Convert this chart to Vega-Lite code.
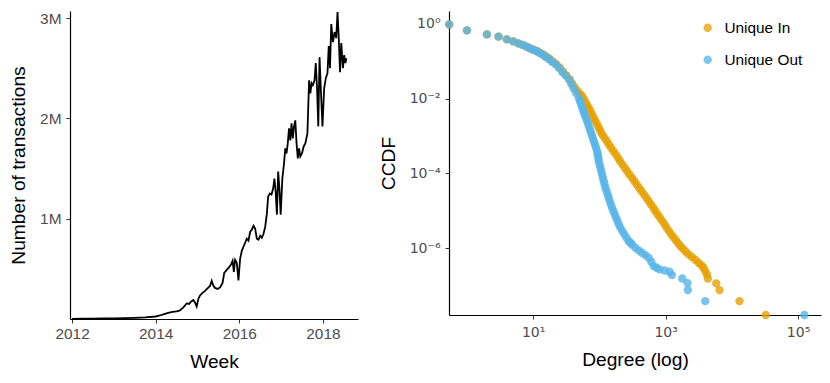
{
  "$schema": "https://vega.github.io/schema/vega-lite/v6.json",
  "padding": {"left": 9, "top": 8, "right": 11, "bottom": 0},
  "config": {
    "font": "Liberation Sans",
    "view": {"stroke": null},
    "axis": {"grid": false, "domainColor": "black", "domainWidth": 1.2, "tickColor": "#333333", "tickSize": 4, "tickWidth": 1, "labelColor": "#4D4D4D", "labelFontSize": 15.4, "titleFontSize": 19.2, "titleFontWeight": "normal", "titleColor": "black", "labelFlush": false, "labelOverlap": false},
    "concat": {"spacing": 21}
  },
  "resolve": {"scale": {"color": "independent"}, "legend": {"color": "independent"}},
  "hconcat": [
    {
      "width": 288,
      "height": 308,
      "data": {"values": [
        {"week": 2012.00, "transactions": 2000},
        {"week": 2012.25, "transactions": 3000},
        {"week": 2012.50, "transactions": 4000},
        {"week": 2012.75, "transactions": 5000},
        {"week": 2013.00, "transactions": 6000},
        {"week": 2013.25, "transactions": 8000},
        {"week": 2013.50, "transactions": 11000},
        {"week": 2013.75, "transactions": 16000},
        {"week": 2014.00, "transactions": 25000},
        {"week": 2014.10, "transactions": 35000},
        {"week": 2014.20, "transactions": 48000},
        {"week": 2014.30, "transactions": 62000},
        {"week": 2014.40, "transactions": 72000},
        {"week": 2014.50, "transactions": 75000},
        {"week": 2014.58, "transactions": 85000},
        {"week": 2014.65, "transactions": 110000},
        {"week": 2014.70, "transactions": 135000},
        {"week": 2014.74, "transactions": 155000},
        {"week": 2014.80, "transactions": 150000},
        {"week": 2014.85, "transactions": 175000},
        {"week": 2014.90, "transactions": 190000},
        {"week": 2014.94, "transactions": 165000},
        {"week": 2014.98, "transactions": 125000},
        {"week": 2015.02, "transactions": 200000},
        {"week": 2015.06, "transactions": 235000},
        {"week": 2015.12, "transactions": 260000},
        {"week": 2015.18, "transactions": 280000},
        {"week": 2015.24, "transactions": 305000},
        {"week": 2015.30, "transactions": 330000},
        {"week": 2015.34, "transactions": 380000},
        {"week": 2015.38, "transactions": 330000},
        {"week": 2015.42, "transactions": 310000},
        {"week": 2015.48, "transactions": 300000},
        {"week": 2015.54, "transactions": 315000},
        {"week": 2015.60, "transactions": 360000},
        {"week": 2015.64, "transactions": 460000},
        {"week": 2015.68, "transactions": 480000},
        {"week": 2015.72, "transactions": 500000},
        {"week": 2015.76, "transactions": 520000},
        {"week": 2015.80, "transactions": 540000},
        {"week": 2015.84, "transactions": 580000},
        {"week": 2015.87, "transactions": 470000},
        {"week": 2015.90, "transactions": 590000},
        {"week": 2015.94, "transactions": 560000},
        {"week": 2015.98, "transactions": 385000},
        {"week": 2016.02, "transactions": 600000},
        {"week": 2016.06, "transactions": 680000},
        {"week": 2016.10, "transactions": 720000},
        {"week": 2016.14, "transactions": 760000},
        {"week": 2016.18, "transactions": 800000},
        {"week": 2016.22, "transactions": 780000},
        {"week": 2016.26, "transactions": 870000},
        {"week": 2016.30, "transactions": 890000},
        {"week": 2016.34, "transactions": 930000},
        {"week": 2016.38, "transactions": 900000},
        {"week": 2016.42, "transactions": 800000},
        {"week": 2016.46, "transactions": 790000},
        {"week": 2016.50, "transactions": 830000},
        {"week": 2016.54, "transactions": 810000},
        {"week": 2016.58, "transactions": 850000},
        {"week": 2016.62, "transactions": 920000},
        {"week": 2016.66, "transactions": 1050000},
        {"week": 2016.69, "transactions": 1220000},
        {"week": 2016.73, "transactions": 1250000},
        {"week": 2016.77, "transactions": 1240000},
        {"week": 2016.81, "transactions": 1300000},
        {"week": 2016.84, "transactions": 1400000},
        {"week": 2016.87, "transactions": 1270000},
        {"week": 2016.90, "transactions": 1040000},
        {"week": 2016.93, "transactions": 1470000},
        {"week": 2016.96, "transactions": 1300000},
        {"week": 2016.99, "transactions": 1040000},
        {"week": 2017.03, "transactions": 1400000},
        {"week": 2017.07, "transactions": 1550000},
        {"week": 2017.10, "transactions": 1700000},
        {"week": 2017.13, "transactions": 1650000},
        {"week": 2017.16, "transactions": 1750000},
        {"week": 2017.19, "transactions": 1900000},
        {"week": 2017.22, "transactions": 1780000},
        {"week": 2017.25, "transactions": 1950000},
        {"week": 2017.28, "transactions": 1800000},
        {"week": 2017.31, "transactions": 1920000},
        {"week": 2017.34, "transactions": 1980000},
        {"week": 2017.37, "transactions": 1750000},
        {"week": 2017.40, "transactions": 1600000},
        {"week": 2017.43, "transactions": 1700000},
        {"week": 2017.46, "transactions": 1620000},
        {"week": 2017.50, "transactions": 1650000},
        {"week": 2017.54, "transactions": 1720000},
        {"week": 2017.58, "transactions": 1750000},
        {"week": 2017.63, "transactions": 1850000},
        {"week": 2017.67, "transactions": 2380000},
        {"week": 2017.70, "transactions": 2250000},
        {"week": 2017.73, "transactions": 2350000},
        {"week": 2017.76, "transactions": 2330000},
        {"week": 2017.80, "transactions": 2380000},
        {"week": 2017.83, "transactions": 2550000},
        {"week": 2017.86, "transactions": 2300000},
        {"week": 2017.89, "transactions": 1920000},
        {"week": 2017.92, "transactions": 2610000},
        {"week": 2017.95, "transactions": 2300000},
        {"week": 2017.99, "transactions": 1920000},
        {"week": 2018.03, "transactions": 2300000},
        {"week": 2018.07, "transactions": 2400000},
        {"week": 2018.11, "transactions": 2450000},
        {"week": 2018.14, "transactions": 2720000},
        {"week": 2018.17, "transactions": 2500000},
        {"week": 2018.20, "transactions": 2940000},
        {"week": 2018.24, "transactions": 2760000},
        {"week": 2018.28, "transactions": 2860000},
        {"week": 2018.32, "transactions": 2800000},
        {"week": 2018.35, "transactions": 3060000},
        {"week": 2018.38, "transactions": 2800000},
        {"week": 2018.41, "transactions": 2460000},
        {"week": 2018.44, "transactions": 2750000},
        {"week": 2018.48, "transactions": 2500000},
        {"week": 2018.51, "transactions": 2630000},
        {"week": 2018.54, "transactions": 2550000},
        {"week": 2018.56, "transactions": 2600000}
      ]},
      "mark": {"type": "line", "color": "black", "strokeWidth": 1.8},
      "encoding": {
        "x": {"field": "week", "type": "quantitative", "scale": {"domain": [2011.95, 2018.84], "nice": false, "zero": false}, "axis": {"values": [2012, 2014, 2016, 2018], "format": "d", "title": "Week", "labelPadding": 3, "titlePadding": 11}},
        "y": {"field": "transactions", "type": "quantitative", "scale": {"domain": [0, 3070000], "nice": false}, "axis": {"values": [1000000, 2000000, 3000000], "labelExpr": "datum.value / 1000000 + 'M'", "title": "Number of transactions", "labelPadding": 5, "titlePadding": 11}}
      }
    },
    {
      "width": 372,
      "height": 304,
      "data": {"values": [
        {"direction": "Unique In", "degree": 0.54, "ccdf": 0.96},
        {"direction": "Unique In", "degree": 1, "ccdf": 0.664},
        {"direction": "Unique In", "degree": 2, "ccdf": 0.519},
        {"direction": "Unique In", "degree": 3, "ccdf": 0.45},
        {"direction": "Unique In", "degree": 4, "ccdf": 0.381},
        {"direction": "Unique In", "degree": 5, "ccdf": 0.337},
        {"direction": "Unique In", "degree": 6, "ccdf": 0.298},
        {"direction": "Unique In", "degree": 7, "ccdf": 0.269},
        {"direction": "Unique In", "degree": 8, "ccdf": 0.243},
        {"direction": "Unique In", "degree": 9, "ccdf": 0.219},
        {"direction": "Unique In", "degree": 10, "ccdf": 0.202},
        {"direction": "Unique In", "degree": 11.49, "ccdf": 0.186},
        {"direction": "Unique In", "degree": 12.75, "ccdf": 0.168},
        {"direction": "Unique In", "degree": 14.15, "ccdf": 0.152},
        {"direction": "Unique In", "degree": 15.89, "ccdf": 0.131},
        {"direction": "Unique In", "degree": 17.84, "ccdf": 0.114},
        {"direction": "Unique In", "degree": 20.03, "ccdf": 0.0966},
        {"direction": "Unique In", "degree": 22.48, "ccdf": 0.082},
        {"direction": "Unique In", "degree": 25.23, "ccdf": 0.0668},
        {"direction": "Unique In", "degree": 28.34, "ccdf": 0.0522},
        {"direction": "Unique In", "degree": 31.8, "ccdf": 0.0417},
        {"direction": "Unique In", "degree": 35.72, "ccdf": 0.0326},
        {"direction": "Unique In", "degree": 38.72, "ccdf": 0.0255},
        {"direction": "Unique In", "degree": 42.47, "ccdf": 0.0199},
        {"direction": "Unique In", "degree": 46.59, "ccdf": 0.0159},
        {"direction": "Unique In", "degree": 50.52, "ccdf": 0.0135},
        {"direction": "Unique In", "degree": 54.8, "ccdf": 0.0117},
        {"direction": "Unique In", "degree": 58.05, "ccdf": 0.00972},
        {"direction": "Unique In", "degree": 61.51, "ccdf": 0.00807},
        {"direction": "Unique In", "degree": 65.18, "ccdf": 0.00671},
        {"direction": "Unique In", "degree": 69.06, "ccdf": 0.00558},
        {"direction": "Unique In", "degree": 73.16, "ccdf": 0.00465},
        {"direction": "Unique In", "degree": 77.51, "ccdf": 0.00378},
        {"direction": "Unique In", "degree": 82.14, "ccdf": 0.00308},
        {"direction": "Unique In", "degree": 87.03, "ccdf": 0.00251},
        {"direction": "Unique In", "degree": 92.2, "ccdf": 0.00205},
        {"direction": "Unique In", "degree": 97.7, "ccdf": 0.00167},
        {"direction": "Unique In", "degree": 103.5, "ccdf": 0.00136},
        {"direction": "Unique In", "degree": 109.7, "ccdf": 0.00111},
        {"direction": "Unique In", "degree": 118.9, "ccdf": 0.000902},
        {"direction": "Unique In", "degree": 129, "ccdf": 0.000735},
        {"direction": "Unique In", "degree": 138.3, "ccdf": 0.000597},
        {"direction": "Unique In", "degree": 149.9, "ccdf": 0.000486},
        {"direction": "Unique In", "degree": 162.6, "ccdf": 0.000396},
        {"direction": "Unique In", "degree": 176.3, "ccdf": 0.000323},
        {"direction": "Unique In", "degree": 191.1, "ccdf": 0.000263},
        {"direction": "Unique In", "degree": 204.9, "ccdf": 0.000214},
        {"direction": "Unique In", "degree": 222.2, "ccdf": 0.000175},
        {"direction": "Unique In", "degree": 240.9, "ccdf": 0.000142},
        {"direction": "Unique In", "degree": 261.2, "ccdf": 0.000116},
        {"direction": "Unique In", "degree": 283.3, "ccdf": 0.0000944},
        {"direction": "Unique In", "degree": 310.9, "ccdf": 0.0000769},
        {"direction": "Unique In", "degree": 337, "ccdf": 0.0000627},
        {"direction": "Unique In", "degree": 365.4, "ccdf": 0.0000511},
        {"direction": "Unique In", "degree": 396.3, "ccdf": 0.0000416},
        {"direction": "Unique In", "degree": 429.7, "ccdf": 0.0000339},
        {"direction": "Unique In", "degree": 471.5, "ccdf": 0.0000276},
        {"direction": "Unique In", "degree": 511, "ccdf": 0.0000225},
        {"direction": "Unique In", "degree": 554, "ccdf": 0.0000183},
        {"direction": "Unique In", "degree": 600.9, "ccdf": 0.0000149},
        {"direction": "Unique In", "degree": 651.8, "ccdf": 0.0000122},
        {"direction": "Unique In", "degree": 698.7, "ccdf": 0.00000991},
        {"direction": "Unique In", "degree": 757.6, "ccdf": 0.00000805},
        {"direction": "Unique In", "degree": 821.6, "ccdf": 0.00000656},
        {"direction": "Unique In", "degree": 890.7, "ccdf": 0.00000535},
        {"direction": "Unique In", "degree": 965.8, "ccdf": 0.00000436},
        {"direction": "Unique In", "degree": 1035, "ccdf": 0.00000355},
        {"direction": "Unique In", "degree": 1123, "ccdf": 0.00000289},
        {"direction": "Unique In", "degree": 1217, "ccdf": 0.00000236},
        {"direction": "Unique In", "degree": 1320, "ccdf": 0.00000196},
        {"direction": "Unique In", "degree": 1432, "ccdf": 0.00000163},
        {"direction": "Unique In", "degree": 1552, "ccdf": 0.00000136},
        {"direction": "Unique In", "degree": 1664, "ccdf": 0.00000115},
        {"direction": "Unique In", "degree": 1825, "ccdf": 9.75e-7},
        {"direction": "Unique In", "degree": 2002, "ccdf": 8.28e-7},
        {"direction": "Unique In", "degree": 2222, "ccdf": 6.89e-7},
        {"direction": "Unique In", "degree": 2495, "ccdf": 5.85e-7},
        {"direction": "Unique In", "degree": 2800, "ccdf": 4.95e-7},
        {"direction": "Unique In", "degree": 3145, "ccdf": 4.12e-7},
        {"direction": "Unique In", "degree": 3449, "ccdf": 3.57e-7},
        {"direction": "Unique In", "degree": 3741, "ccdf": 3.03e-7},
        {"direction": "Unique In", "degree": 3963, "ccdf": 2.47e-7},
        {"direction": "Unique In", "degree": 4199, "ccdf": 2.01e-7},
        {"direction": "Unique In", "degree": 4347, "ccdf": 1.57e-7},
        {"direction": "Unique In", "degree": 5805, "ccdf": 1.16e-7},
        {"direction": "Unique In", "degree": 6518, "ccdf": 7.67e-8},
        {"direction": "Unique In", "degree": 13050, "ccdf": 3.9e-8},
        {"direction": "Unique In", "degree": 32550, "ccdf": 1.66e-8},
        {"direction": "Unique Out", "degree": 0.54, "ccdf": 0.96},
        {"direction": "Unique Out", "degree": 1, "ccdf": 0.664},
        {"direction": "Unique Out", "degree": 2, "ccdf": 0.519},
        {"direction": "Unique Out", "degree": 3, "ccdf": 0.45},
        {"direction": "Unique Out", "degree": 4, "ccdf": 0.381},
        {"direction": "Unique Out", "degree": 5, "ccdf": 0.337},
        {"direction": "Unique Out", "degree": 6, "ccdf": 0.298},
        {"direction": "Unique Out", "degree": 7, "ccdf": 0.269},
        {"direction": "Unique Out", "degree": 8, "ccdf": 0.243},
        {"direction": "Unique Out", "degree": 9, "ccdf": 0.219},
        {"direction": "Unique Out", "degree": 10, "ccdf": 0.202},
        {"direction": "Unique Out", "degree": 11.1, "ccdf": 0.186},
        {"direction": "Unique Out", "degree": 12.3, "ccdf": 0.168},
        {"direction": "Unique Out", "degree": 13.7, "ccdf": 0.152},
        {"direction": "Unique Out", "degree": 15.3, "ccdf": 0.131},
        {"direction": "Unique Out", "degree": 17.2, "ccdf": 0.114},
        {"direction": "Unique Out", "degree": 19.3, "ccdf": 0.0966},
        {"direction": "Unique Out", "degree": 21.7, "ccdf": 0.082},
        {"direction": "Unique Out", "degree": 24.4, "ccdf": 0.0668},
        {"direction": "Unique Out", "degree": 27.4, "ccdf": 0.0522},
        {"direction": "Unique Out", "degree": 30.7, "ccdf": 0.0417},
        {"direction": "Unique Out", "degree": 34.5, "ccdf": 0.0326},
        {"direction": "Unique Out", "degree": 37.4, "ccdf": 0.0249},
        {"direction": "Unique Out", "degree": 40.6, "ccdf": 0.0187},
        {"direction": "Unique Out", "degree": 44.5, "ccdf": 0.0141},
        {"direction": "Unique Out", "degree": 48.8, "ccdf": 0.0105},
        {"direction": "Unique Out", "degree": 50.5, "ccdf": 0.00884},
        {"direction": "Unique Out", "degree": 52.3, "ccdf": 0.00745},
        {"direction": "Unique Out", "degree": 54.2, "ccdf": 0.00619},
        {"direction": "Unique Out", "degree": 56.1, "ccdf": 0.00514},
        {"direction": "Unique Out", "degree": 58.1, "ccdf": 0.00432},
        {"direction": "Unique Out", "degree": 60.1, "ccdf": 0.00363},
        {"direction": "Unique Out", "degree": 62.6, "ccdf": 0.00302},
        {"direction": "Unique Out", "degree": 65.2, "ccdf": 0.00251},
        {"direction": "Unique Out", "degree": 67.5, "ccdf": 0.00209},
        {"direction": "Unique Out", "degree": 69.9, "ccdf": 0.00174},
        {"direction": "Unique Out", "degree": 72.4, "ccdf": 0.001445},
        {"direction": "Unique Out", "degree": 74.9, "ccdf": 0.0012},
        {"direction": "Unique Out", "degree": 77.6, "ccdf": 0.000998},
        {"direction": "Unique Out", "degree": 80.3, "ccdf": 0.00083},
        {"direction": "Unique Out", "degree": 83.2, "ccdf": 0.00069},
        {"direction": "Unique Out", "degree": 86.1, "ccdf": 0.000574},
        {"direction": "Unique Out", "degree": 89.1, "ccdf": 0.000477},
        {"direction": "Unique Out", "degree": 92.2, "ccdf": 0.000396},
        {"direction": "Unique Out", "degree": 93.8, "ccdf": 0.00034},
        {"direction": "Unique Out", "degree": 95.5, "ccdf": 0.000292},
        {"direction": "Unique Out", "degree": 96.6, "ccdf": 0.00025},
        {"direction": "Unique Out", "degree": 97.7, "ccdf": 0.000214},
        {"direction": "Unique Out", "degree": 100.6, "ccdf": 0.000174},
        {"direction": "Unique Out", "degree": 103.5, "ccdf": 0.000142},
        {"direction": "Unique Out", "degree": 106.6, "ccdf": 0.0001158},
        {"direction": "Unique Out", "degree": 109.7, "ccdf": 0.0000944},
        {"direction": "Unique Out", "degree": 112.9, "ccdf": 0.0000769},
        {"direction": "Unique Out", "degree": 116.2, "ccdf": 0.0000627},
        {"direction": "Unique Out", "degree": 119.6, "ccdf": 0.0000511},
        {"direction": "Unique Out", "degree": 123.2, "ccdf": 0.0000416},
        {"direction": "Unique Out", "degree": 128.3, "ccdf": 0.0000339},
        {"direction": "Unique Out", "degree": 133.6, "ccdf": 0.0000276},
        {"direction": "Unique Out", "degree": 138.3, "ccdf": 0.0000225},
        {"direction": "Unique Out", "degree": 143.2, "ccdf": 0.0000183},
        {"direction": "Unique Out", "degree": 149.1, "ccdf": 0.0000149},
        {"direction": "Unique Out", "degree": 155.2, "ccdf": 0.0000122},
        {"direction": "Unique Out", "degree": 162.6, "ccdf": 0.00000991},
        {"direction": "Unique Out", "degree": 170.3, "ccdf": 0.00000805},
        {"direction": "Unique Out", "degree": 178.4, "ccdf": 0.00000656},
        {"direction": "Unique Out", "degree": 186.8, "ccdf": 0.00000535},
        {"direction": "Unique Out", "degree": 196.8, "ccdf": 0.00000436},
        {"direction": "Unique Out", "degree": 207.3, "ccdf": 0.00000355},
        {"direction": "Unique Out", "degree": 222.2, "ccdf": 0.00000289},
        {"direction": "Unique Out", "degree": 238.2, "ccdf": 0.00000236},
        {"direction": "Unique Out", "degree": 256.8, "ccdf": 0.00000192},
        {"direction": "Unique Out", "degree": 276.8, "ccdf": 0.00000156},
        {"direction": "Unique Out", "degree": 293.4, "ccdf": 0.00000141},
        {"direction": "Unique Out", "degree": 310.9, "ccdf": 0.00000127},
        {"direction": "Unique Out", "degree": 349, "ccdf": 0.00000104},
        {"direction": "Unique Out", "degree": 391.7, "ccdf": 8.81e-7},
        {"direction": "Unique Out", "degree": 439.7, "ccdf": 7.62e-7},
        {"direction": "Unique Out", "degree": 493.6, "ccdf": 6.61e-7},
        {"direction": "Unique Out", "degree": 554, "ccdf": 5.61e-7},
        {"direction": "Unique Out", "degree": 607.9, "ccdf": 4.39e-7},
        {"direction": "Unique Out", "degree": 659.4, "ccdf": 3.36e-7},
        {"direction": "Unique Out", "degree": 731.6, "ccdf": 3.03e-7},
        {"direction": "Unique Out", "degree": 812, "ccdf": 2.74e-7},
        {"direction": "Unique Out", "degree": 965.8, "ccdf": 2.57e-7},
        {"direction": "Unique Out", "degree": 1149, "ccdf": 2.37e-7},
        {"direction": "Unique Out", "degree": 1246, "ccdf": 1.93e-7},
        {"direction": "Unique Out", "degree": 1784, "ccdf": 1.57e-7},
        {"direction": "Unique Out", "degree": 2146, "ccdf": 1.18e-7},
        {"direction": "Unique Out", "degree": 2171, "ccdf": 7.67e-8},
        {"direction": "Unique Out", "degree": 3963, "ccdf": 3.9e-8},
        {"direction": "Unique Out", "degree": 124600, "ccdf": 1.66e-8}
      ]},
      "mark": {"type": "point", "shape": "circle", "filled": true, "opacity": 0.8, "size": 70},
      "encoding": {
        "x": {"field": "degree", "type": "quantitative", "scale": {"type": "log", "domain": [0.536, 222000], "nice": false}, "axis": {"values": [10, 1000, 100000], "labelExpr": "datum.value < 100 ? '10¹' : datum.value < 10000 ? '10³' : '10⁵'", "labelFont": "DejaVu Sans", "labelFontSize": 14, "title": "Degree (log)", "labelPadding": 6, "titlePadding": 11}},
        "y": {"field": "ccdf", "type": "quantitative", "scale": {"type": "log", "domain": [1.66e-8, 2.18], "nice": false}, "axis": {"values": [1, 0.01, 0.0001, 0.000001], "labelExpr": "datum.value > 0.1 ? '10⁰' : datum.value > 0.001 ? '10⁻²' : datum.value > 0.00001 ? '10⁻⁴' : '10⁻⁶'", "labelFont": "DejaVu Sans", "labelFontSize": 14, "title": "CCDF", "labelPadding": 5, "titlePadding": 11}},
        "color": {"field": "direction", "type": "nominal", "scale": {"domain": ["Unique In", "Unique Out"], "range": ["#E69F00", "#56B4E9"]}, "legend": {"title": null, "orient": "none", "legendX": 251, "legendY": 9, "labelFontSize": 15.4, "labelColor": "black", "symbolSize": 70, "symbolOpacity": 0.75, "rowPadding": 15, "labelOffset": 9}}
      }
    }
  ]
}
